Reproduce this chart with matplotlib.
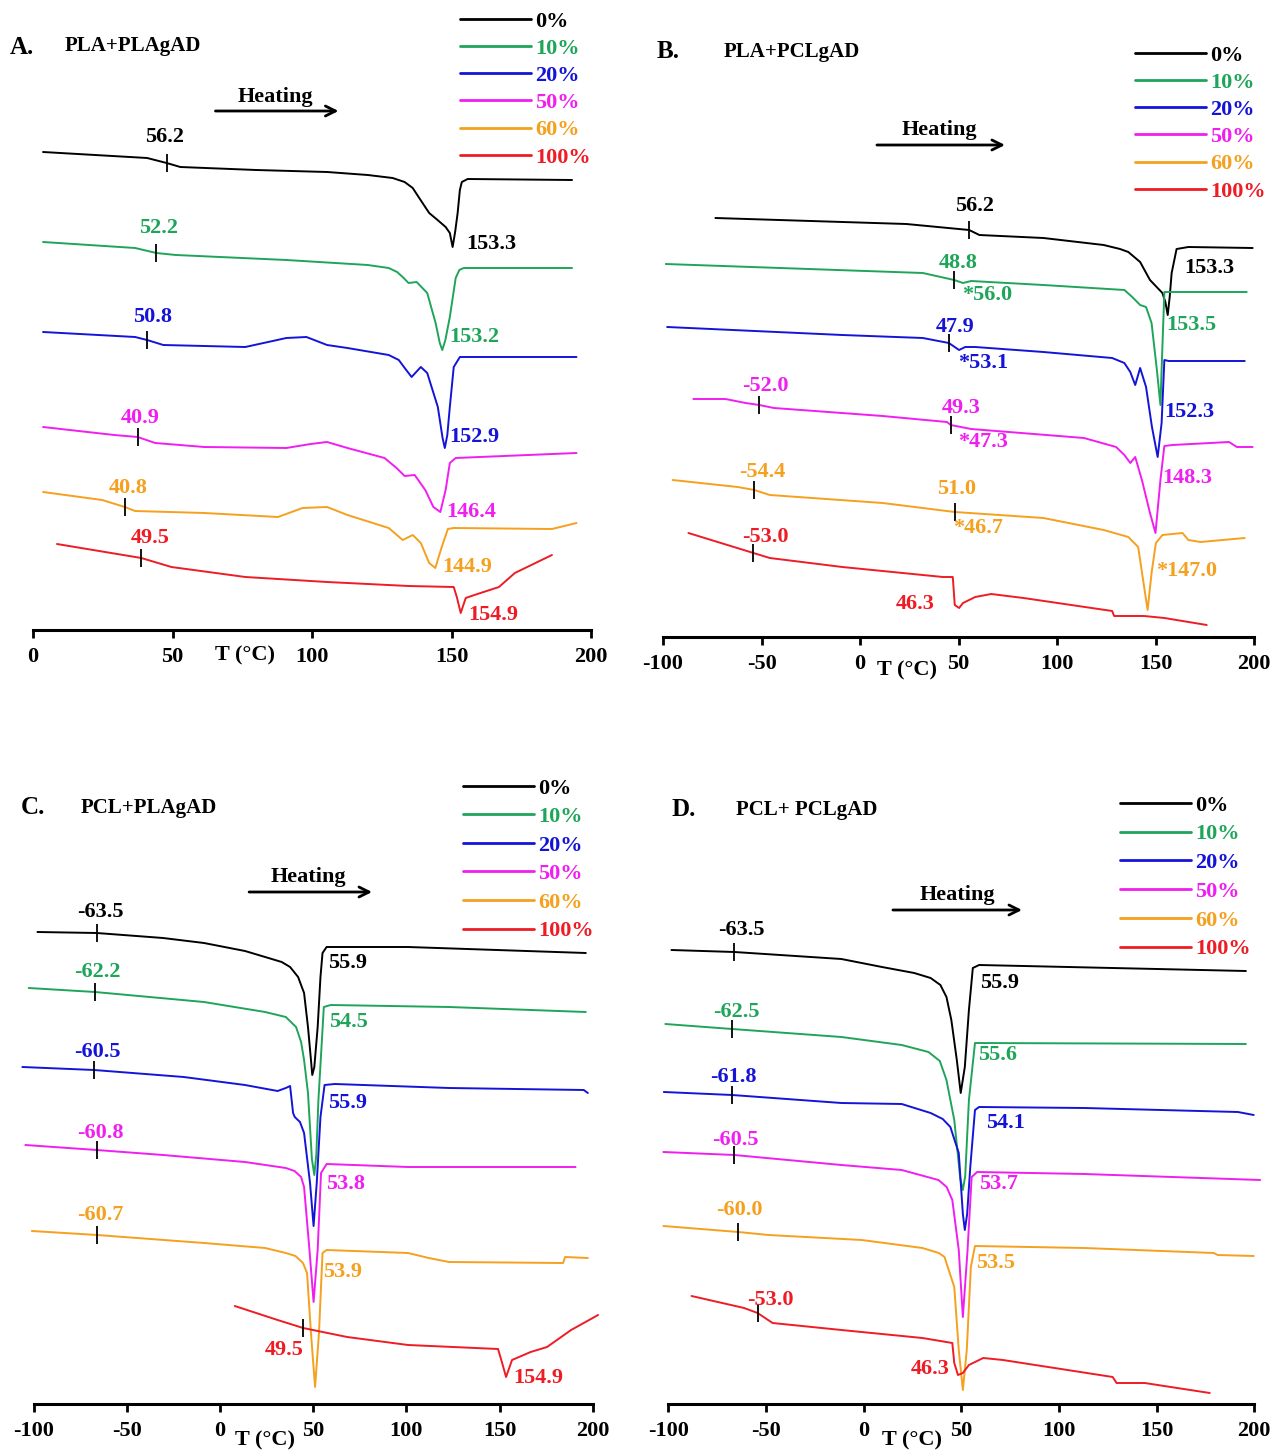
import matplotlib
matplotlib.use('Agg')
import matplotlib.pyplot as plt

plt.rcParams['font.family'] = ['Liberation Serif', 'DejaVu Serif']
plt.rcParams['font.weight'] = 'bold'

# ---------------- common ----------------
SERIES = ['0%', '10%', '20%', '50%', '60%', '100%']
COLORS = ['#000000', '#1fa55a', '#1414d8', '#f01ef0', '#f5a01e', '#ee1c24']

# ---------------- Panel A : PLA+PLAgAD (T in degC, heat flow in a.u.) ----------------
A_T0 = [3.6, 40.9, 47.9, 52.8, 80.0, 105.4, 120.0, 128.9, 133.2, 136.1, 138.2, 142.0, 145.0, 147.9, 149.4, 150.4, 151.3, 152.2, 153.0, 153.7, 155.8, 193.2]
A_H0 = [478, 472, 467, 463, 460, 458, 455, 452, 448, 442, 433, 417, 410, 403, 397, 383, 398, 417, 440, 448, 451, 450]
A_T1 = [3.6, 36.6, 44.2, 51.2, 90.8, 120.0, 127.5, 130.5, 132.5, 134.6, 137.5, 141.3, 144.3, 145.8, 146.7, 147.8, 149.4, 151.5, 152.8, 154.4, 193.2]
A_H1 = [388, 382, 377, 375, 370, 365, 362, 358, 353, 347, 348, 337, 307, 287, 280, 290, 313, 352, 360, 362, 362]
A_T2 = [3.6, 36.6, 40.9, 46.7, 76.1, 90.8, 98.0, 105.4, 112.7, 127.5, 131.1, 133.5, 135.7, 139.0, 141.3, 145.1, 146.8, 147.6, 148.5, 149.4, 150.8, 153.0, 194.8]
A_H2 = [298, 293, 290, 285, 283, 292, 293, 285, 282, 275, 270, 261, 253, 263, 257, 223, 192, 182, 195, 223, 263, 273, 273]
A_T3 = [3.6, 29.1, 37.5, 43.8, 61.4, 90.8, 99.5, 105.4, 112.7, 126.0, 130.3, 133.2, 136.8, 140.6, 143.5, 146.0, 147.9, 149.4, 151.5, 194.8]
A_H3 = [203, 195, 193, 187, 183, 182, 186, 188, 182, 172, 162, 154, 155, 140, 123, 118, 140, 167, 172, 177]
A_T4 = [3.6, 24.8, 32.9, 36.6, 61.4, 87.8, 96.6, 105.4, 112.7, 127.5, 132.5, 136.1, 139.0, 142.0, 144.2, 146.5, 148.7, 150.8, 186.0, 194.8]
A_H4 = [138, 130, 123, 119, 117, 113, 122, 123, 115, 102, 90, 95, 87, 67, 62, 83, 101, 102, 101, 107]
A_T5 = [8.6, 38.8, 49.6, 76.1, 105.4, 134.6, 150.8, 151.9, 153.3, 155.1, 158.2, 167.0, 172.7, 186.0]
A_H5 = [86, 72, 63, 53, 48, 44, 43, 33, 17, 32, 35, 43, 57, 75]
A_TG_T = [47.9, 44.2, 40.9, 37.5, 32.9, 38.8]
A_TG_H = [467, 377, 290, 193, 123, 72]
A_LAB = ['56.2', '153.3', '52.2', '153.2', '50.8', '152.9', '40.9', '146.4', '40.8', '144.9', '49.5', '154.9']
A_LAB_S = [0, 0, 1, 1, 2, 2, 3, 3, 4, 4, 5, 5]

# ---------------- Panel B : PLA+PCLgAD ----------------
B_T0 = [-73.4, 23.5, 55.4, 60.6, 93.1, 123.7, 132.0, 136.2, 142.2, 147.2, 153.5, 155.0, 156.2, 157.2, 158.2, 160.7, 166.7, 199.3]
B_H0 = [419, 413, 407, 402, 399, 392, 388, 385, 375, 357, 344, 335, 322, 340, 364, 388, 390, 389]
B_T1 = [-98.6, 31.9, 47.8, 52.3, 56.4, 93.1, 134.2, 138.2, 142.2, 145.2, 148.0, 150.7, 152.5, 153.5, 154.5, 156.7, 196.3]
B_H1 = [373, 364, 357, 354, 356, 352, 347, 340, 332, 330, 314, 267, 232, 290, 345, 345, 345]
B_T2 = [-97.9, -9.0, 31.9, 45.1, 50.3, 53.4, 58.5, 93.1, 128.0, 134.2, 137.2, 139.7, 142.2, 145.2, 148.2, 151.1, 153.1, 154.5, 156.7, 195.3]
B_H2 = [310, 302, 299, 294, 287, 290, 290, 285, 279, 274, 265, 252, 269, 250, 210, 180, 214, 277, 276, 276]
B_T3 = [-84.6, -68.3, -58.1, -51.1, -43.7, 11.5, 44.1, 46.1, 56.4, 113.7, 130.0, 134.2, 137.2, 139.7, 143.1, 147.2, 150.0, 152.5, 154.5, 158.6, 187.3, 191.3, 199.3]
B_H3 = [238, 238, 234, 232, 229, 221, 215, 212, 208, 199, 190, 182, 174, 180, 157, 124, 104, 157, 191, 192, 195, 190, 190]
B_T4 = [-95.1, -62.1, -53.6, -45.8, 11.5, 48.1, 93.1, 123.7, 136.2, 141.2, 143.7, 146.0, 148.0, 150.2, 153.5, 163.7, 166.7, 172.8, 195.3]
B_H4 = [157, 150, 147, 142, 134, 125, 119, 107, 100, 90, 57, 27, 64, 94, 102, 104, 97, 95, 99]
B_T5 = [-87.1, -54.1, -45.8, -9.0, 42.1, 47.1, 48.1, 50.3, 52.3, 58.5, 66.6, 83.0, 128.0, 129.0, 144.2, 154.5, 176.0]
B_H5 = [104, 84, 79, 70, 60, 60, 32, 29, 34, 40, 43, 39, 26, 21, 21, 19, 12]
B_TG_T = [55.4, 47.8, 45.1, -51.1, 46.1, -53.6, 48.1, -54.1]
B_TG_H = [407, 357, 294, 232, 212, 147, 125, 84]
B_LAB = ['56.2', '153.3', '48.8', '*56.0', '153.5', '47.9', '*53.1', '152.3',
         '-52.0', '49.3', '*47.3', '148.3', '-54.4', '51.0', '*46.7', '*147.0', '-53.0', '46.3']
B_LAB_S = [0, 0, 1, 1, 1, 2, 2, 2, 3, 3, 3, 3, 4, 4, 4, 4, 5, 5]

# ---------------- Panel C : PCL+PLAgAD ----------------
C_T0 = [-98.0, -66.2, -30.6, -8.6, 13.4, 24.2, 33.1, 37.6, 41.9, 45.1, 47.2, 48.8, 49.5, 50.6, 52.4, 53.9, 55.0, 57.2, 100.9, 196.3]
C_H0 = [472, 471, 466, 461, 453, 447, 442, 437, 427, 411, 377, 344, 329, 337, 377, 427, 451, 457, 457, 451]
C_T1 = [-102.7, -67.1, -8.6, 24.2, 35.3, 40.8, 43.5, 45.1, 47.2, 49.3, 50.6, 51.7, 52.8, 55.7, 59.4, 122.9, 196.3]
C_H1 = [416, 412, 402, 392, 387, 377, 362, 344, 311, 245, 229, 250, 304, 397, 399, 397, 392]
C_T2 = [-106.1, -67.6, -19.5, 13.4, 30.9, 35.3, 37.6, 39.2, 40.1, 42.9, 45.1, 48.3, 50.2, 51.9, 53.9, 56.1, 61.6, 122.9, 195.2, 197.4]
C_H2 = [337, 334, 327, 319, 313, 316, 318, 291, 287, 282, 271, 221, 178, 221, 287, 319, 320, 316, 314, 311]
C_T3 = [-104.5, -66.2, -30.6, 13.4, 35.3, 40.0, 43.5, 45.1, 48.0, 50.2, 52.4, 54.2, 57.2, 100.9, 190.8]
C_H3 = [259, 254, 249, 242, 236, 233, 227, 217, 154, 102, 154, 231, 240, 237, 237]
C_T4 = [-101.0, -66.0, -8.6, 24.2, 35.3, 40.5, 44.5, 46.7, 48.8, 51.0, 53.1, 55.0, 57.2, 100.9, 112.0, 122.9, 184.1, 185.2, 197.4]
C_H4 = [173, 169, 161, 156, 151, 148, 141, 131, 71, 17, 71, 151, 154, 151, 146, 142, 141, 147, 146]
C_T5 = [7.9, 30.9, 44.6, 68.2, 100.9, 149.2, 151.4, 153.5, 156.7, 166.7, 175.5, 188.4, 202.9]
C_H5 = [98, 84, 76, 67, 59, 55, 41, 27, 44, 52, 57, 74, 89]
C_TG_T = [-66.2, -67.1, -67.6, -66.2, -66.0, 44.6]
C_TG_H = [471, 412, 334, 254, 169, 76]
C_LAB = ['-63.5', '55.9', '-62.2', '54.5', '-60.5', '55.9', '-60.8', '53.8', '-60.7', '53.9', '49.5', '154.9']
C_LAB_S = [0, 0, 1, 1, 2, 2, 3, 3, 4, 4, 5, 5]

# ---------------- Panel D : PCL+PCLgAD ----------------
D_T0 = [-98.4, -66.2, -11.4, 9.4, 25.9, 34.3, 39.3, 42.4, 44.9, 47.7, 49.7, 51.8, 53.9, 55.9, 59.1, 195.7]
D_H0 = [454, 452, 445, 437, 431, 426, 419, 407, 384, 344, 311, 337, 394, 436, 439, 433]
D_T1 = [-101.5, -67.3, -11.4, 19.5, 33.2, 39.0, 42.4, 46.4, 49.5, 50.8, 52.0, 53.9, 57.0, 195.7]
D_H1 = [380, 375, 367, 359, 352, 343, 324, 284, 225, 214, 228, 304, 361, 360]
D_T2 = [-102.3, -67.3, -11.4, 19.5, 34.3, 40.5, 44.4, 48.7, 50.8, 51.8, 53.0, 54.6, 57.0, 59.1, 112.9, 191.6, 199.7]
D_H2 = [312, 309, 301, 300, 291, 285, 277, 251, 190, 174, 190, 237, 294, 297, 296, 292, 289]
D_T3 = [-102.5, -66.2, -11.4, 19.5, 38.3, 42.5, 45.4, 48.7, 50.8, 53.2, 55.3, 58.1, 112.9, 203.0]
D_H3 = [252, 249, 239, 234, 224, 217, 204, 154, 87, 154, 227, 232, 230, 224]
D_T4 = [-102.5, -64.2, -48.7, -1.0, 30.1, 38.5, 41.4, 46.4, 48.7, 50.8, 52.8, 54.9, 57.0, 112.9, 179.2, 181.3, 199.7]
D_H4 = [178, 172, 169, 164, 156, 151, 147, 117, 54, 14, 54, 137, 158, 156, 151, 149, 148]
D_T5 = [-88.1, -61.2, -54.3, -46.6, -11.4, 30.1, 45.4, 46.4, 48.3, 50.8, 53.9, 61.2, 71.3, 127.5, 129.5, 143.9, 177.2]
D_H5 = [108, 96, 91, 81, 74, 66, 61, 41, 29, 31, 39, 46, 44, 27, 21, 21, 11]
D_TG_T = [-66.2, -67.3, -67.3, -66.2, -64.2, -54.3]
D_TG_H = [452, 375, 309, 249, 172, 91]
D_LAB = ['-63.5', '55.9', '-62.5', '55.6', '-61.8', '54.1', '-60.5', '53.7', '-60.0', '53.5', '-53.0', '46.3']
D_LAB_S = [0, 0, 1, 1, 2, 2, 3, 3, 4, 4, 5, 5]

# ---------------- layout (pixels / positions) ----------------
W, H = 1274, 1452
PANELS = [
    dict(letter='A.', title='PLA+PLAgAD', curves=[(A_T0, A_H0), (A_T1, A_H1), (A_T2, A_H2), (A_T3, A_H3), (A_T4, A_H4), (A_T5, A_H5)],
         tg=(A_TG_T, A_TG_H), labs=(A_LAB, A_LAB_S),
         lab_pos=[(47.0, 493), (164.1, 386), (44.9, 402), (158.3, 293), (42.7, 313), (158.3, 193),
                  (38.4, 212), (156.9, 118), (34.1, 142), (155.5, 63), (42.0, 92), (164.8, 15)],
         box=(33, 558, 630, 630), xlim=(0, 200), ticks=[0, 50, 100, 150, 200],
         letter_pos=(-4.0, 583), title_pos=(35.9, 584), tlabel=(76, -25),
         heat_text=(86.9, 533), heat_arrow=(65.4, 109.5, 519), legend=(460, 11), lspace=0.30),
    dict(letter='B.', title='PLA+PCLgAD', curves=[(B_T0, B_H0), (B_T1, B_H1), (B_T2, B_H2), (B_T3, B_H3), (B_T4, B_H4), (B_T5, B_H5)],
         tg=(B_TG_T, B_TG_H), labs=(B_LAB, B_LAB_S),
         lab_pos=[(58.3, 431), (177.5, 369), (49.7, 374), (64.4, 342), (168.4, 312), (48.1, 310), (62.4, 274), (167.4, 225),
                  (-48.2, 251), (51.2, 229), (62.4, 195), (165.9, 159), (-49.8, 165), (49.2, 148), (59.8, 109), (165.9, 66),
                  (-48.2, 100), (27.9, 33)],
         box=(663, 591, 637, 637), xlim=(-100, 200), ticks=[-100, -50, 0, 50, 100, 150, 200],
         letter_pos=(-97.5, 585), title_pos=(-34.5, 585), tlabel=(23.8, -33),
         heat_text=(40.5, 507), heat_arrow=(8.6, 73.6, 492), legend=(1135, 45), lspace=0.30),
    dict(letter='C.', title='PCL+PLAgAD', curves=[(C_T0, C_H0), (C_T1, C_H1), (C_T2, C_H2), (C_T3, C_H3), (C_T4, C_H4), (C_T5, C_H5)],
         tg=(C_TG_T, C_TG_H), labs=(C_LAB, C_LAB_S),
         lab_pos=[(-64.4, 492), (68.7, 441), (-66.0, 432), (68.7, 382), (-66.0, 352), (68.7, 301),
                  (-64.4, 271), (67.6, 220), (-64.4, 189), (66.0, 132), (34.4, 54), (170.7, 26)],
         box=(33.7, 559, 1404, 700), xlim=(-100, 200), ticks=[-100, -50, 0, 50, 100, 150, 200],
         letter_pos=(-100.4, 596), title_pos=(-38.1, 596), tlabel=(24, -36),
         heat_text=(47.2, 527), heat_arrow=(15.6, 81.6, 512), legend=(463, 778), lspace=0.36),
    dict(letter='D.', title='PCL+ PCLgAD', curves=[(D_T0, D_H0), (D_T1, D_H1), (D_T2, D_H2), (D_T3, D_H3), (D_T4, D_H4), (D_T5, D_H5)],
         tg=(D_TG_T, D_TG_H), labs=(D_LAB, D_LAB_S),
         lab_pos=[(-62.8, 474), (69.8, 421), (-65.3, 392), (68.8, 349), (-66.9, 327), (72.4, 281),
                  (-65.8, 264), (68.8, 220), (-63.8, 194), (67.3, 141), (-47.9, 104), (34.0, 35)],
         box=(668.3, 586, 1404, 700), xlim=(-100, 200), ticks=[-100, -50, 0, 50, 100, 150, 200],
         letter_pos=(-91.9, 594), title_pos=(-29.0, 594), tlabel=(24.8, -36),
         heat_text=(47.8, 509), heat_arrow=(15.0, 81.1, 494), legend=(1120, 795), lspace=0.37),
]

FS = 16
fig = plt.figure(figsize=(W / 100, H / 100), dpi=100)

for p in PANELS:
    left, width, bottom, height = p['box']
    ax = fig.add_axes([left / W, (H - bottom) / H, width / W, height / H])
    ax.set_facecolor('none')
    ax.set_xlim(*p['xlim'])
    ax.set_ylim(0, height)
    for s in ['left', 'right', 'top']:
        ax.spines[s].set_visible(False)
    ax.spines['bottom'].set_linewidth(2.2)
    ax.set_yticks([])
    ax.set_xticks(p['ticks'])
    ax.set_xticklabels([str(t) for t in p['ticks']])
    ax.tick_params(axis='x', direction='out', length=6, width=2, pad=6, labelsize=FS)

    # curves
    for i, (tt, hh) in enumerate(p['curves']):
        ax.plot(tt, hh, color=COLORS[i], lw=1.4, label=SERIES[i], clip_on=False,
                solid_joinstyle='round', solid_capstyle='round')

    # Tg markers
    tg_t, tg_h = p['tg']
    ax.plot(tg_t, tg_h, linestyle='none', marker='|', markersize=13, markeredgewidth=1.3, color='k', clip_on=False)

    # value labels
    texts, sidx = p['labs']
    for txt, s, (tx, ty) in zip(texts, sidx, p['lab_pos']):
        ax.text(tx, ty, txt, color=COLORS[s], fontsize=FS, fontweight='bold', ha='center', va='center')

    # titles
    ax.text(*p['letter_pos'], p['letter'], fontsize=18, fontweight='bold', ha='center', va='center', clip_on=False)
    ax.text(*p['title_pos'], p['title'], fontsize=15, fontweight='bold', ha='center', va='center', clip_on=False)
    ax.text(p['tlabel'][0], p['tlabel'][1], 'T (°C)', fontsize=FS, fontweight='bold', ha='center', va='center', clip_on=False)

    # heating arrow
    ax.text(*p['heat_text'], 'Heating', fontsize=FS, fontweight='bold', ha='center', va='center')
    x1, x2, ya = p['heat_arrow']
    ax.annotate('', xy=(x2, ya), xytext=(x1, ya),
                arrowprops=dict(arrowstyle='->', lw=2, color='k', mutation_scale=18, shrinkA=0, shrinkB=0))

    # legend
    lx, ly = p['legend']
    leg = ax.legend(loc='upper left', bbox_to_anchor=(lx / W, 1 - ly / H), bbox_transform=fig.transFigure,
                    frameon=False, labelcolor='linecolor', handlelength=3.2, handletextpad=0.2,
                    labelspacing=p['lspace'], borderpad=0, borderaxespad=0,
                    prop={'size': FS, 'weight': 'bold'})
    for line in leg.get_lines():
        line.set_linewidth(2)

fig.savefig('out.png', dpi=100)
